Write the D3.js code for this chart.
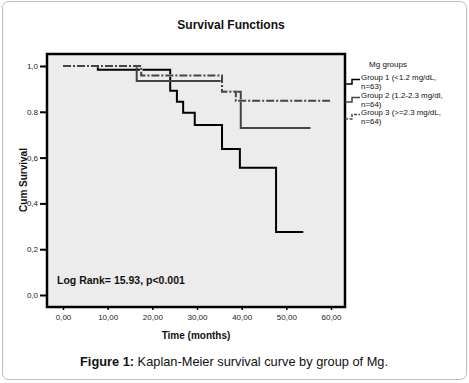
<!DOCTYPE html>
<html>
<head>
<meta charset="utf-8">
<script src="https://cdn.jsdelivr.net/npm/d3@7"></script>
<style>
  html, body { margin: 0; padding: 0; background: #fff; }
  svg { display: block; font-family: "Liberation Sans", Arial, sans-serif; }
</style>
</head>
<body>
<svg id="chart" width="469" height="383"></svg>
<script>
// ---- data ----
const groupNames = ["Group 1 (<1.2 mg/dL,", "Group 2 (1.2-2.3 mg/dl,", "Group 3 (>=2.3 mg/dL,"];
const groupN = ["n=63)", "n=64)", "n=64)"];
// step curves: [time, survival] points where the value changes, last point = end of follow-up
const group1Times = [0, 7.8, 24.0, 25.5, 26.9, 29.5, 35.6, 39.6, 47.7, 53.8];
const group1Surv  = [1.0, 0.984, 0.892, 0.844, 0.796, 0.742, 0.638, 0.556, 0.275, 0.275];
const group2Times = [0, 16.5, 35.6, 39.8, 55.4];
const group2Surv  = [1.0, 0.934, 0.888, 0.729, 0.729];
const group3Times = [0, 17.5, 35.6, 38.7, 59.8];
const group3Surv  = [1.0, 0.958, 0.888, 0.848, 0.848];
const xTicks = [0, 10, 20, 30, 40, 50, 60];
const xTickLabels = ["0,00", "10,00", "20,00", "30,00", "40,00", "50,00", "60,00"];
const yTicks = [0, 0.2, 0.4, 0.6, 0.8, 1.0];
const yTickLabels = ["0,0", "0,2", "0,4", "0,6", "0.8", "1,0"];
const logRankText = "Log Rank= 15.93, p<0.001";

const svg = d3.select("#chart");

// outer rounded border
svg.append("rect").attr("x", 2.5).attr("y", 1.5).attr("width", 464).attr("height", 378)
  .attr("rx", 6).attr("fill", "#fff").attr("stroke", "#bdbdbd").attr("stroke-width", 1);

// title
svg.append("text").attr("x", 231).attr("y", 29).attr("text-anchor", "middle")
  .attr("font-size", 12).attr("font-weight", "bold").attr("fill", "#111").text("Survival Functions");

const frame = {left: 47, right: 345, top: 54, bottom: 307};
const x = d3.scaleLinear().domain([0, 60]).range([63, 331]);
const y = d3.scaleLinear().domain([0, 1]).range([295, 66]);

// plot background
svg.append("rect").attr("x", frame.left).attr("y", frame.top)
  .attr("width", frame.right - frame.left).attr("height", frame.bottom - frame.top)
  .attr("fill", "#ececec");

// y axis
const yAxis = d3.axisLeft(y).tickValues(yTicks).tickSize(7).tickPadding(2)
  .tickFormat((d, i) => yTickLabels[i]);
const gy = svg.append("g").attr("transform", `translate(${frame.left},0)`).call(yAxis);
gy.select(".domain").remove();
gy.selectAll(".tick line").attr("stroke", "#000").attr("stroke-width", 2);
gy.selectAll(".tick text").attr("font-size", 8).attr("fill", "#222")
  .attr("font-family", "Liberation Sans, Arial, sans-serif");

// x axis
const xAxis = d3.axisBottom(x).tickValues(xTicks).tickSize(3).tickPadding(4)
  .tickFormat((d, i) => xTickLabels[i]);
const gx = svg.append("g").attr("transform", `translate(0,${frame.bottom})`).call(xAxis);
gx.select(".domain").remove();
gx.selectAll(".tick line").attr("stroke", "#000").attr("stroke-width", 1.5);
gx.selectAll(".tick text").attr("font-size", 8).attr("fill", "#222")
  .attr("font-family", "Liberation Sans, Arial, sans-serif");

// curves
const line = d3.line().x(d => x(d[0])).y(d => y(d[1])).curve(d3.curveStepAfter);
function pts(t, s) { return t.map((v, i) => [v, s[i]]); }
const series = [
  {pts: pts(group1Times, group1Surv), color: "#000", dash: null, width: 2},
  {pts: pts(group2Times, group2Surv), color: "#444", dash: null, width: 2},
  {pts: pts(group3Times, group3Surv), color: "#444", dash: "8,2,2,2", width: 2, halo: true}
];
series.forEach(s => {
  if (s.halo) {
    svg.append("path").attr("d", line(s.pts)).attr("fill", "none")
      .attr("stroke", "#ececec").attr("stroke-width", s.width + 0.5);
  }
  svg.append("path").attr("d", line(s.pts)).attr("fill", "none")
    .attr("stroke", s.color).attr("stroke-width", s.width)
    .attr("stroke-dasharray", s.dash);
});

// frame
svg.append("rect").attr("x", frame.left).attr("y", frame.top)
  .attr("width", frame.right - frame.left).attr("height", frame.bottom - frame.top)
  .attr("fill", "none").attr("stroke", "#000").attr("stroke-width", 2.5);

// log rank text
svg.append("text").attr("x", 57).attr("y", 284).attr("font-size", 10.5).attr("font-weight", "bold")
  .attr("fill", "#111").text(logRankText);

// axis titles
svg.append("text").attr("x", 196).attr("y", 339).attr("text-anchor", "middle")
  .attr("font-size", 10).attr("font-weight", "bold").attr("fill", "#111").text("Time (months)");
svg.append("text").attr("transform", "translate(27,180) rotate(-90)").attr("text-anchor", "middle")
  .attr("font-size", 10).attr("font-weight", "bold").attr("fill", "#111").text("Cum Survival");

// legend
svg.append("text").attr("x", 388).attr("y", 67).attr("text-anchor", "middle")
  .attr("font-size", 8).attr("fill", "#111").text("Mg groups");
const legBase = [84, 102, 119];
const legColors = ["#000", "#444", "#444"];
const legDash = [null, null, "3,1.5"];
groupNames.forEach((name, i) => {
  const b = legBase[i];
  svg.append("path").attr("d", `M${frame.right},${b} H352 V${b - 4.5} H360`)
    .attr("fill", "none").attr("stroke", legColors[i]).attr("stroke-width", 1.5)
    .attr("stroke-dasharray", legDash[i]);
  svg.append("text").attr("x", 361).attr("y", b - 4.5).attr("font-size", 7.9).attr("fill", "#111").text(name);
  svg.append("text").attr("x", 361).attr("y", b + 4.5).attr("font-size", 7.9).attr("fill", "#111").text(groupN[i]);
});

// caption
const cap = svg.append("text").attr("x", 234).attr("y", 366).attr("text-anchor", "middle")
  .attr("font-size", 12.8).attr("fill", "#111");
cap.append("tspan").attr("font-weight", "bold").text("Figure 1:");
cap.append("tspan").text(" Kaplan-Meier survival curve by group of Mg.");
</script>
</body>
</html>
